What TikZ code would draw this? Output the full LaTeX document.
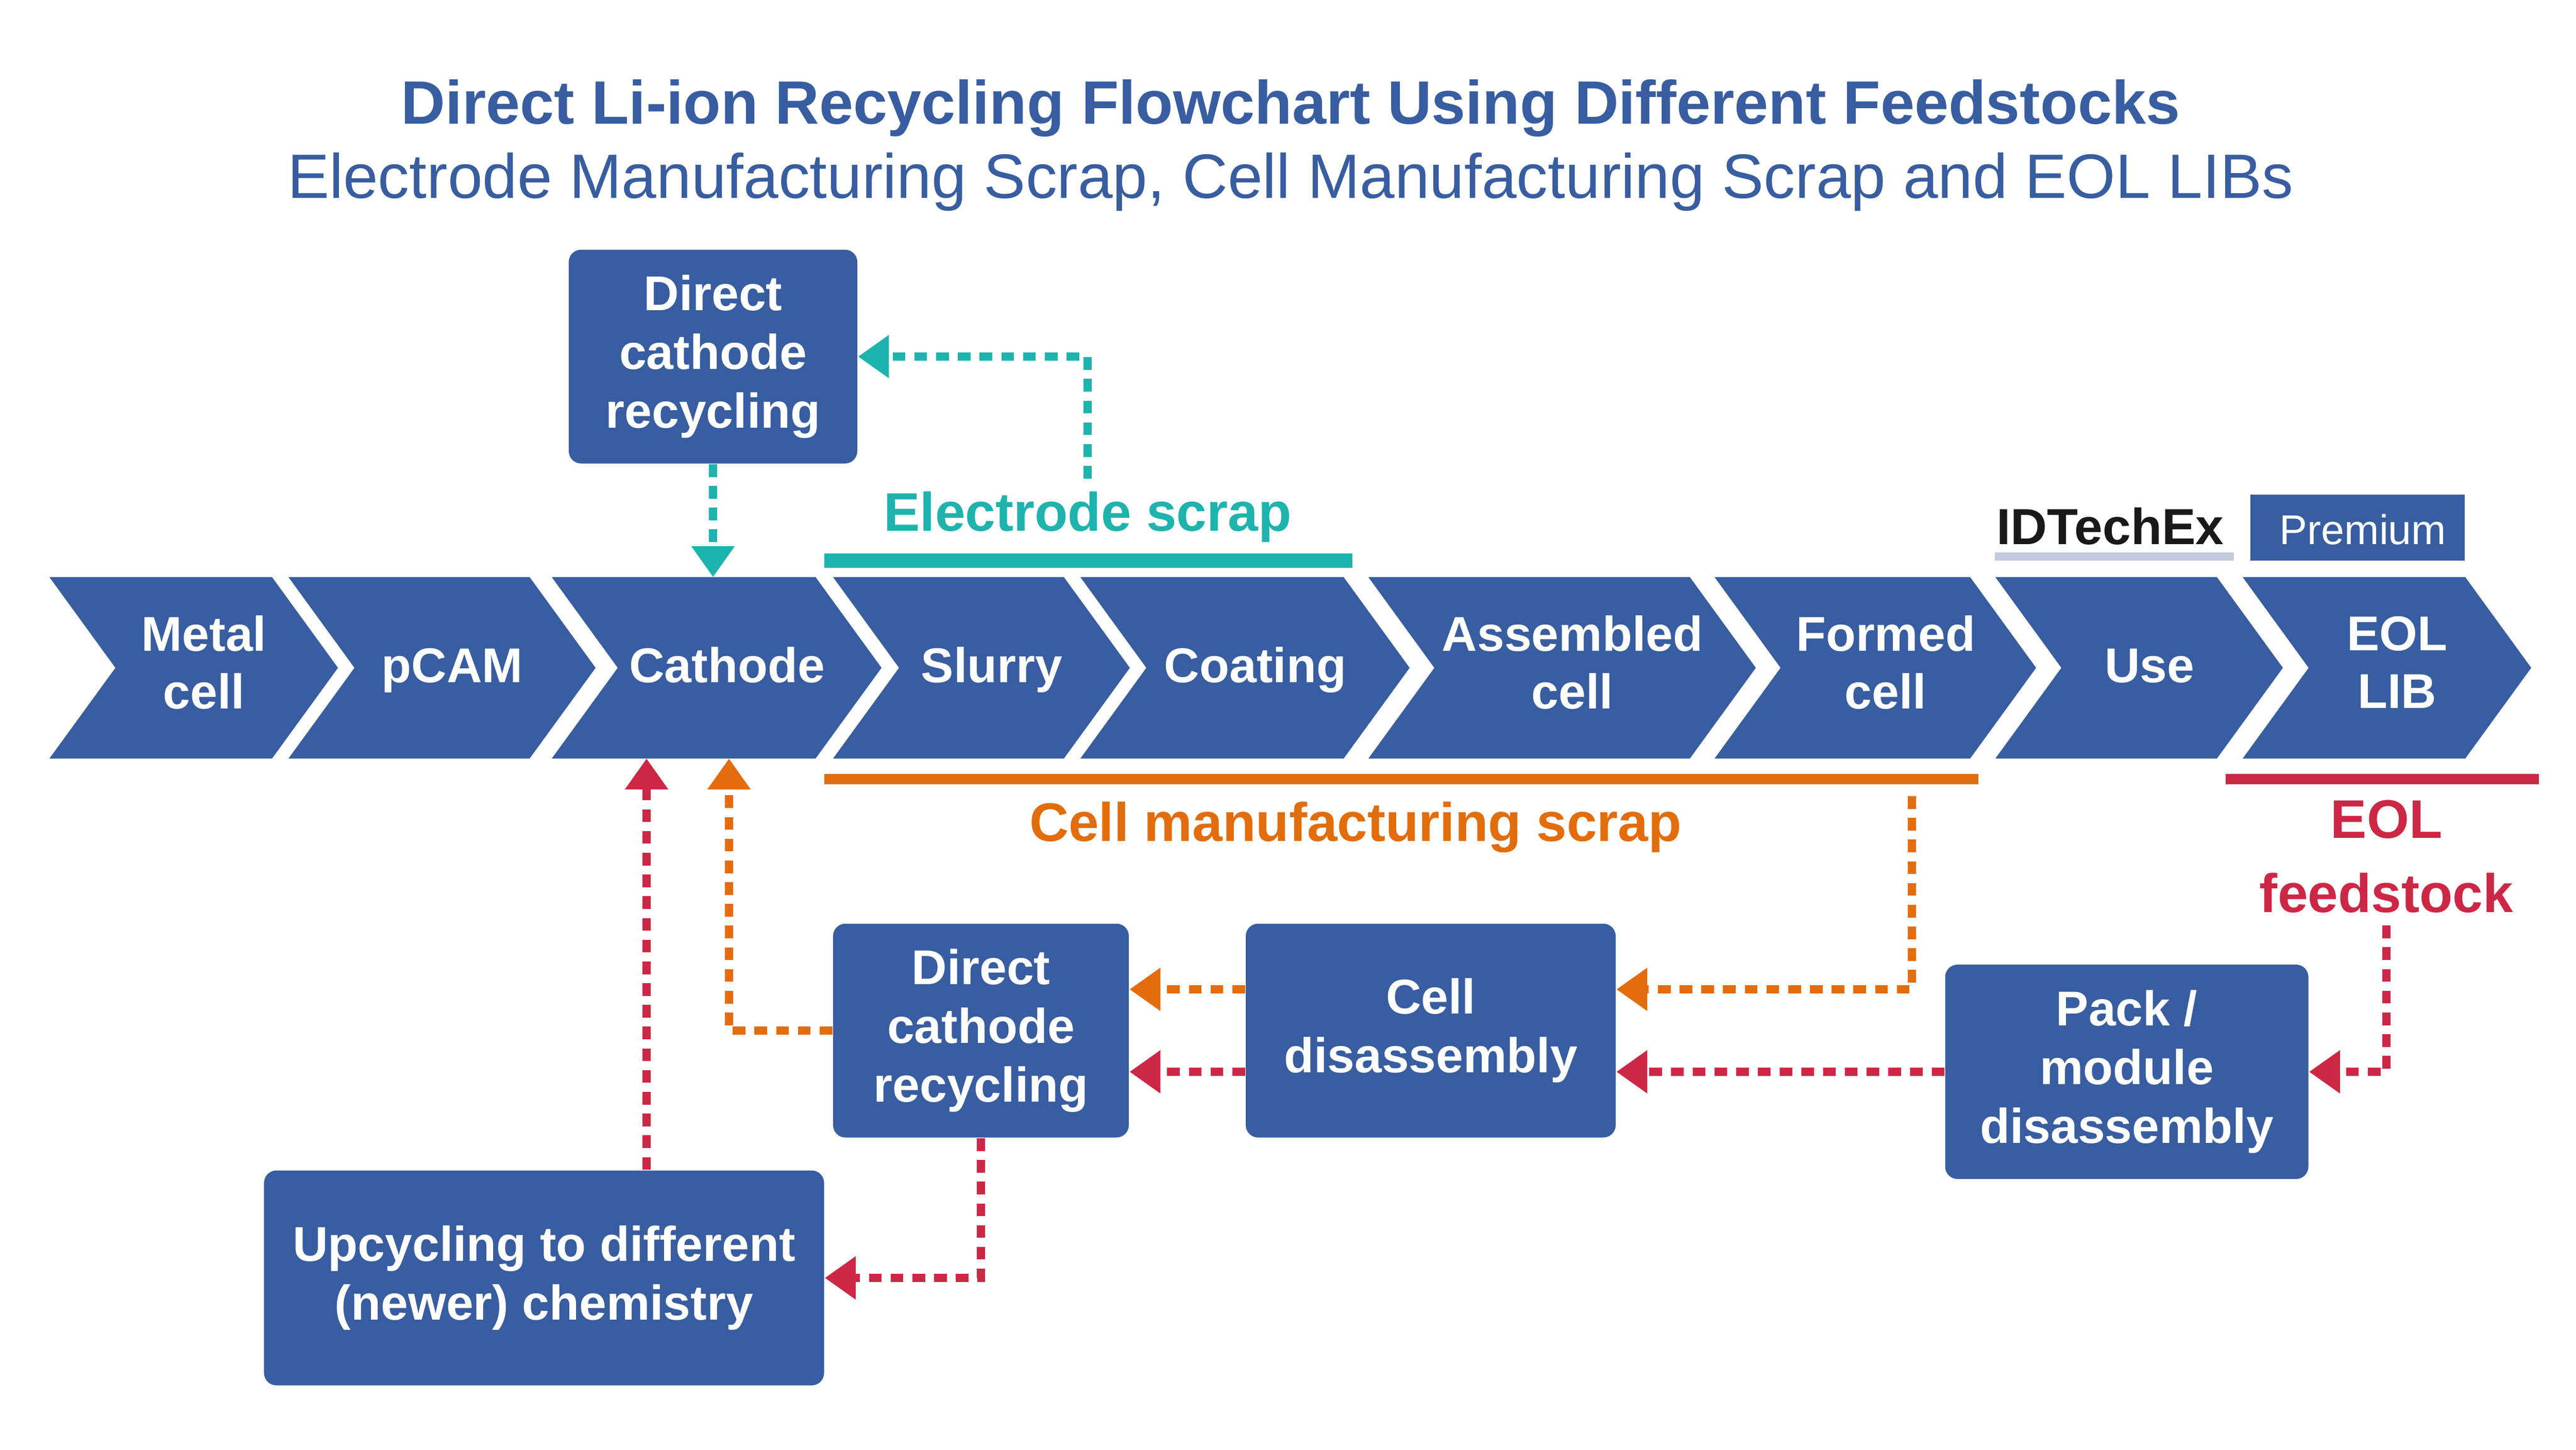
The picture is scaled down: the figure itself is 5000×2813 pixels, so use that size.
\documentclass[tikz,border=0pt]{standalone}
\usepackage{fontspec}
\setmainfont{Liberation Sans}
\usetikzlibrary{arrows.meta}

\definecolor{chevblue}{HTML}{385DA0}
\definecolor{scrapteal}{HTML}{1FB3AD}
\definecolor{scraporange}{HTML}{E36C0B}
\definecolor{eolred}{HTML}{CD2746}
\definecolor{logolav}{HTML}{C4CAE0}

\tikzset{
  chevtext/.style = {text = white, align = center,
    font = \fontsize{13.5}{16}\selectfont\bfseries,
    execute at begin node = \strut, execute at end node = \strut},
  procbox/.style = {fill = chevblue, rounded corners = 0.12cm, text = white,
    align = center, inner sep = 0pt,
    font = \fontsize{13.5}{16.2}\selectfont\bfseries},
  scraplabel/.style = {align = center,
    font = \fontsize{15}{20.5}\selectfont\bfseries},
  flow/.style = {line width = 2.3pt, dash pattern = on 3.5pt off 2.5pt,
    -{Triangle[length = 0.3cm, width = 0.4cm]}}
}

\begin{document}
\begin{tikzpicture}[x = 0.05mm, y = -0.05mm]
  \useasboundingbox (0, 0) rectangle (5000, 2813);
  \fill [white] (0, 0) rectangle (5000, 2813);

  % title
  \node [anchor = base, text = chevblue, font = \fontsize{16.9}{20}\selectfont\bfseries]
    (title) at (2505, 240) {Direct Li-ion Recycling Flowchart Using Different Feedstocks};
  \node [anchor = base, text = chevblue, font = \fontsize{17.3}{20}\selectfont]
    (subtitle) at (2505, 384) {Electrode Manufacturing Scrap, Cell Manufacturing Scrap and EOL LIBs};

  % value chain
  \foreach \l/\r/\n/\lbl in {96/528/metal/{Metal\\cell}, 560/1028/pcam/pCAM,
      1071/1583/cathode/Cathode, 1617/2065/slurry/Slurry, 2097/2608/coating/Coating,
      2656/3280/assembled/{Assembled\\cell}, 3328/3824/formed/{Formed\\cell},
      3873/4303/use/Use, 4353/4785/eol/{EOL\\LIB}} {
    \fill [chevblue] (\l, 1120) -- (\r, 1120) -- ({\r + 128}, 1296) -- (\r, 1472)
      -- (\l, 1472) -- ({\l + 128}, 1296) -- cycle;
    \node [chevtext] (\n) at ({(\l + \r)/2 + 84}, 1302) {\lbl};
    \coordinate (\n-top) at ({(\l + \r)/2 + 64}, 1120);
    \coordinate (\n-bot) at ({(\l + \r)/2 + 64}, 1472);
  }

  % feedstock bars
  \draw [scrapteal, line width = 0.14cm] (1600, 1088) -- (2625, 1088);
  \draw [scraporange, line width = 0.1cm] (1600, 1512) -- (3840, 1512);
  \draw [eolred, line width = 0.1cm] (4320, 1512) -- (4928, 1512);
  \node [scraplabel, text = scrapteal, anchor = base] (elscrap) at (2111, 1030) {Electrode scrap};
  \node [scraplabel, text = scraporange, anchor = base] (cellscrap) at (2631, 1632) {Cell manufacturing scrap};
  \node [scraplabel, text = eolred] (eolfeed) at (4632, 1662) {EOL\\feedstock};
  \coordinate (celldrop) at (3711, 1545);

  % logo
  \node [anchor = base, text = black!90, font = \fontsize{14}{16}\selectfont\bfseries]
    (logo) at (4096, 1056) {IDTechEx};
  \fill [logolav] (3872, 1072) rectangle (4336, 1088);
  \fill [chevblue] (4368, 960) rectangle (4784, 1088);
  \node [anchor = base west, text = white, font = \fontsize{11.5}{14}\selectfont]
    (premium) at (4400, 1056) {Premium};

  % process boxes
  \node [procbox, minimum width = 2.8cm, minimum height = 2.075cm] (dcrup) at (1384, 692) {Direct\\cathode\\recycling};
  \node [procbox, minimum width = 2.87cm, minimum height = 2.075cm] (dcrlow) at (1904, 2000) {Direct\\cathode\\recycling};
  \node [procbox, minimum width = 3.59cm, minimum height = 2.075cm] (celldis) at (2777, 2000) {Cell\\disassembly};
  \node [procbox, minimum width = 3.525cm, minimum height = 2.08cm] (packdis) at (4128, 2080) {Pack /\\module\\disassembly};
  \node [procbox, minimum width = 5.435cm, minimum height = 2.085cm] (upcyc) at (1056, 2480) {Upcycling to different\\(newer) chemistry};

  % electrode scrap route
  \draw [flow, scrapteal] (elscrap.north) |- (dcrup.east);
  \draw [flow, scrapteal] (dcrup.south) -- (dcrup.south |- cathode-top);

  % cell manufacturing scrap route
  \draw [flow, scraporange] (celldrop) |- ([yshift = 0.4cm]celldis.east);
  \draw [flow, scraporange] ([yshift = 0.4cm]celldis.west) -- ([yshift = 0.4cm]dcrlow.east);
  \draw [flow, scraporange] (dcrlow.west) -| ([xshift = 0.12cm]cathode-bot);

  % EOL route
  \draw [flow, eolred] (eolfeed.south) |- (packdis.east);
  \draw [flow, eolred] (packdis.west) -- ([yshift = -0.4cm]celldis.east);
  \draw [flow, eolred] ([yshift = -0.4cm]celldis.west) -- ([yshift = -0.4cm]dcrlow.east);
  \draw [flow, eolred] (dcrlow.south) |- (upcyc.east);
  \draw [flow, eolred] ([xshift = -0.68cm]cathode-bot |- upcyc.north) -- ([xshift = -0.68cm]cathode-bot);
\end{tikzpicture}
\end{document}
